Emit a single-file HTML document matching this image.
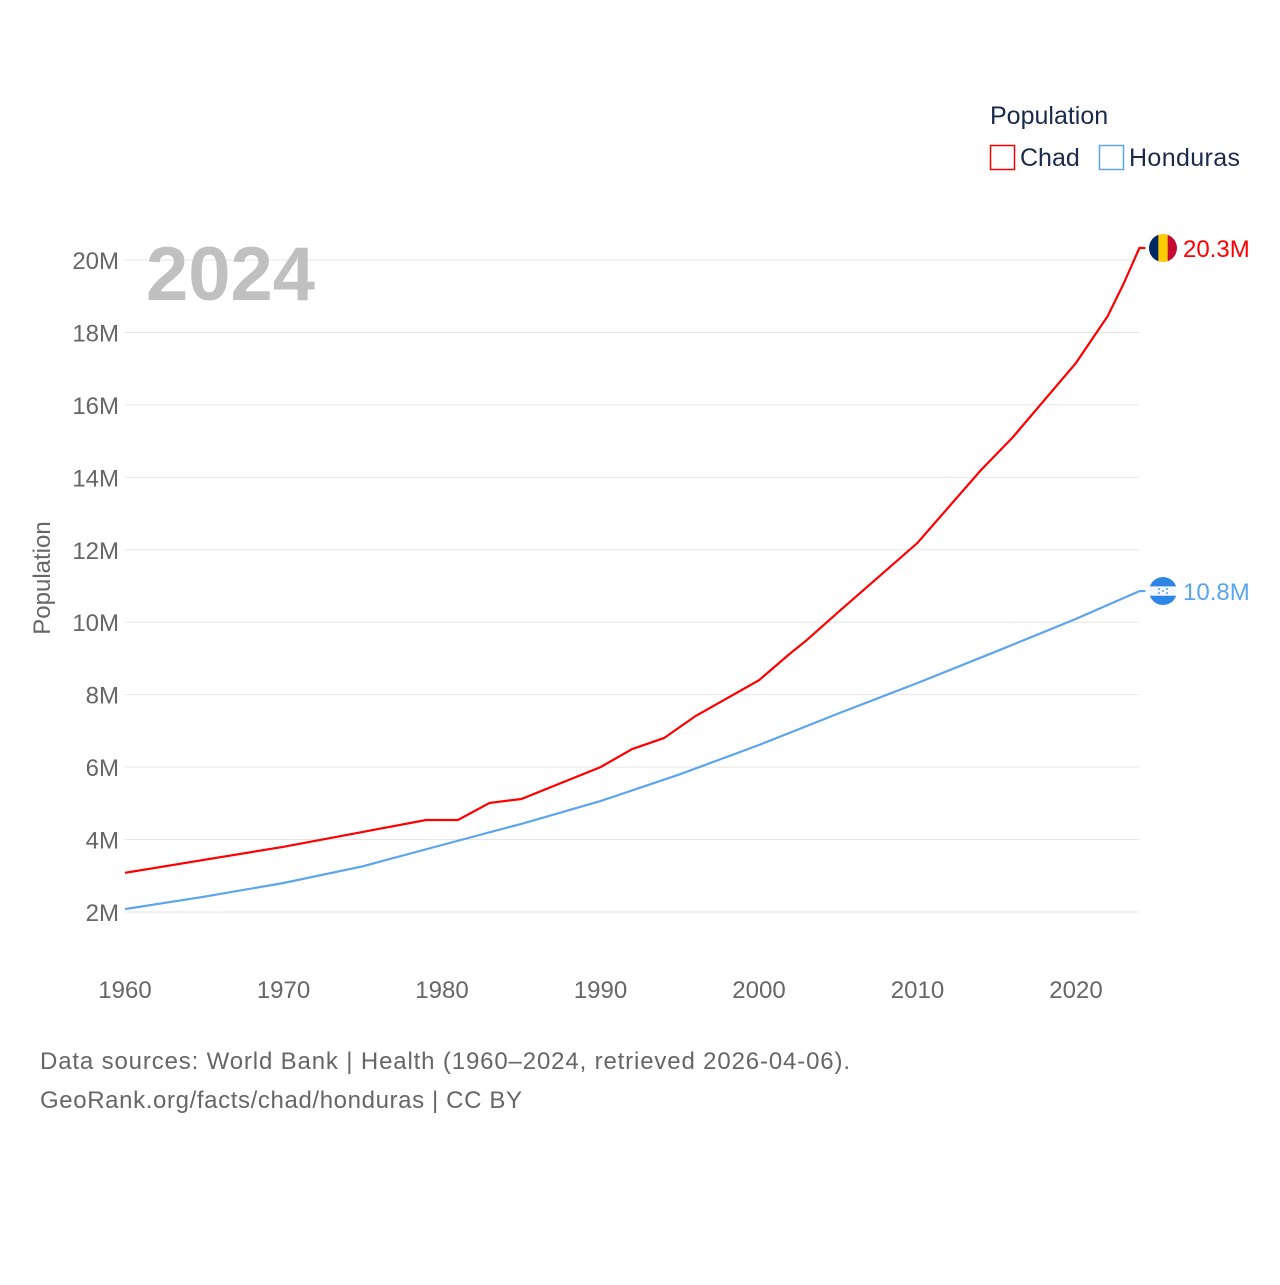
<!DOCTYPE html>
<html><head><meta charset="utf-8"><style>
body{margin:0;background:#fff;width:1280px;height:1280px;overflow:hidden;font-family:"Liberation Sans",sans-serif}
svg text{font-family:"Liberation Sans",sans-serif}
</style></head><body>
<svg id="chart" width="1280" height="1280" xmlns="http://www.w3.org/2000/svg">
<g id="grid"></g>
<text x="146" y="300" font-size="76" font-weight="bold" fill="#c0c0c0">2024</text>
<text transform="translate(50,578) rotate(-90)" text-anchor="middle" font-size="24" fill="#666">Population</text>
<text x="990" y="124" font-size="25" fill="#1a2a4a">Population</text>
<g><rect x="990.5" y="145.5" width="24" height="24" fill="none" stroke="#f00" stroke-width="1.5"/><text x="1020" y="166" font-size="25" fill="#1a2a4a">Chad</text></g>
<g><rect x="1099.5" y="145.5" width="24" height="24" fill="none" stroke="#5aa5ee" stroke-width="1.5"/><text x="1129" y="166" font-size="25" fill="#1a2a4a" textLength="111">Honduras</text></g>
<g id="series"></g>
<text x="40" y="1069" font-size="24" fill="#666" textLength="810">Data sources: World Bank | Health (1960–2024, retrieved 2026-04-06).</text>
<text x="40" y="1108" font-size="24" fill="#666" textLength="482">GeoRank.org/facts/chad/honduras | CC BY</text>
</svg>
<script>
const xTicks=[1960,1970,1980,1990,2000,2010,2020];
const yTicks=[2,4,6,8,10,12,14,16,18,20];
const chadYears=[1960,1970,1975,1979,1981,1983,1985,1990,1992,1994,1996,2000,2002,2003,2005,2010,2014,2016,2020,2022,2023,2024];
const chadValues=[3.08,3.80,4.21,4.54,4.54,5.01,5.12,6.0,6.5,6.8,7.41,8.4,9.15,9.5,10.28,12.19,14.2,15.1,17.16,18.45,19.34,20.33];
const hondYears=[1960,1965,1970,1975,1980,1985,1990,1995,2000,2005,2010,2015,2020,2024];
const hondValues=[2.08,2.42,2.8,3.26,3.85,4.43,5.06,5.8,6.61,7.48,8.32,9.2,10.09,10.86];
const NS='http://www.w3.org/2000/svg';
const X=y=>125+(y-1960)*951/60;
const Y=v=>984.4-v*36.22;
const grid=document.getElementById('grid'),ser=document.getElementById('series');
function mk(t,a,p){const e=document.createElementNS(NS,t);for(const k in a)e.setAttribute(k,a[k]);p.appendChild(e);return e;}
yTicks.forEach(v=>{
 const l=mk('line',{x1:125,x2:1139,y1:Y(v),y2:Y(v),stroke:'#e6e6e6','stroke-width':1},grid);
 
 
 const t=mk('text',{x:119,y:Y(v)+9,'text-anchor':'end','font-size':24,fill:'#666'},grid);
 t.textContent=v+'M';
 
 
});
xTicks.forEach(y=>{
 const t=mk('text',{x:X(y),y:998,'text-anchor':'middle','font-size':24,fill:'#666'},grid);
 t.textContent=y;
 
 
});
const defs=mk('defs',{},document.getElementById('chart'));
function line(ys,vs,col,name,label,flag){
 const d=ys.map((y,i)=>(i?'L':'M')+X(y).toFixed(1)+','+Y(vs[i]).toFixed(1)).join('');
 const ly=Y(vs[vs.length-1]);
 const p=mk('path',{d:d+'L'+(X(2024)+6)+','+ly,fill:'none',stroke:col,'stroke-width':2.2},ser);
 
 
 const cp=mk('clipPath',{id:'cp-'+name},defs);
 mk('circle',{cx:1163,cy:ly,r:14},cp);
 const g=mk('g',{'clip-path':'url(#cp-'+name+')'},ser);
 
 
 if(flag==='td'){
  ['#002664','#fecb00','#c60c30'].forEach((c,i)=>mk('rect',{x:1149+i*9.34,y:ly-14,width:9.5,height:28,fill:c},g));
 }else{
  ['#2d86e6','#f4f7fb','#2d86e6'].forEach((c,i)=>mk('rect',{x:1149,y:ly-14+i*9.34,width:28,height:9.5,fill:c},g));
  [[-4,-2],[4,-2],[0,0],[-4,2],[4,2]].forEach(q=>mk('circle',{cx:1163+q[0],cy:ly+q[1],r:0.9,fill:'#2d86e6'},g));
 }
 const t=mk('text',{x:1183,y:ly+9,'font-size':24,fill:col},ser);
 t.textContent=label;
 
 
}
line(chadYears,chadValues,'#ff0000','chad','20.3M','td');
line(hondYears,hondValues,'#5aa5ee','honduras','10.8M','hn');
</script>
</body></html>
